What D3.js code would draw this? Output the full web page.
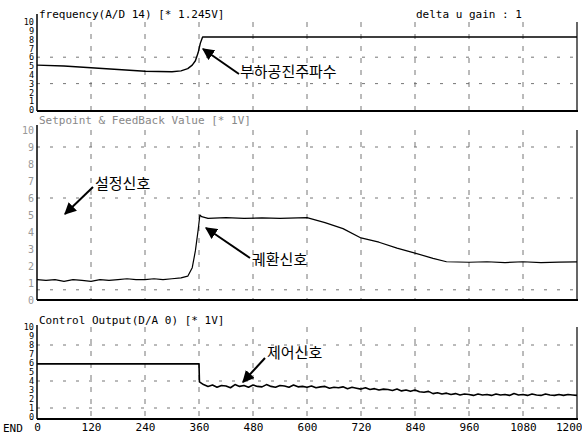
<!DOCTYPE html>
<html><head><meta charset="utf-8">
<script src="https://cdn.jsdelivr.net/npm/d3@7/dist/d3.min.js"></script>
<style>
html,body{margin:0;padding:0;background:#fff;}
svg{display:block;}
.mono{font-family:"DejaVu Sans Mono","Liberation Mono",monospace;}
.kr{font-family:"Noto Sans CJK KR","Noto Sans CJK SC",sans-serif;}
</style></head>
<body>
<svg id="c" width="582" height="434"></svg>
<script>
// ---------- DATA ----------
const xTicks = [0,120,240,360,480,600,720,840,960,1080,1200];
const yTicks = [0,1,2,3,4,5,6,7,8,9,10];
const titles = ["frequency(A/D 14) [* 1.245V]", "Setpoint & FeedBack Value [* 1V]", "Control Output(D/A 0) [* 1V]"];
const gainLabel = "delta u gain : 1";
const xUnitLabel = "END";

// frequency (panel 1)
const freqT = [0,60,120,180,240,300,320,335,345,352,358,363,368,1200];
const freqV = [5.1,5.0,4.8,4.6,4.4,4.35,4.45,4.7,5.1,5.6,6.5,7.6,8.3,8.3];

// feedback (panel 2)
const fbT = [0,20,40,60,80,100,120,140,160,180,200,220,240,260,280,300,320,335,345,352,358,362,366,380,420,460,500,540,580,600,640,680,720,760,800,840,880,910,960,1000,1040,1080,1120,1160,1200];
const fbV = [1.2,1.15,1.2,1.1,1.2,1.15,1.1,1.2,1.15,1.2,1.25,1.2,1.2,1.25,1.2,1.25,1.3,1.4,1.9,2.9,4.1,5.0,4.9,4.8,4.85,4.8,4.83,4.8,4.83,4.85,4.55,4.2,3.65,3.4,3.05,2.76,2.45,2.25,2.22,2.25,2.2,2.25,2.2,2.23,2.24];

// control output (panel 3)
const ctrlT = [0,360,361,370,380,390,400,410,420,430,440,450,460,470,480,490,500,510,520,530,540,550,560,570,580,590,600,610,620,630,640,650,660,670,680,690,700,710,720,730,740,750,760,770,780,790,800,810,820,830,840,850,860,870,880,890,900,910,920,930,940,950,960,970,980,990,1000,1010,1020,1030,1040,1050,1060,1070,1080,1090,1100,1110,1120,1130,1140,1150,1160,1170,1180,1190,1200];
const ctrlV = [5.9,5.9,3.9,3.6,3.4,3.55,3.3,3.5,3.45,3.25,3.6,3.4,3.5,3.3,3.55,3.4,3.35,3.6,3.4,3.3,3.5,3.45,3.3,3.55,3.35,3.4,3.3,3.45,3.25,3.35,3.4,3.2,3.3,3.25,3.35,3.15,3.3,3.2,3.1,3.25,3.05,3.15,3.0,3.1,3.05,2.95,3.1,2.9,3.0,2.85,3.0,2.8,2.75,2.85,2.6,2.7,2.55,2.65,2.5,2.6,2.45,2.55,2.5,2.4,2.55,2.45,2.5,2.4,2.55,2.45,2.5,2.4,2.6,2.45,2.5,2.4,2.55,2.45,2.4,2.55,2.45,2.4,2.5,2.4,2.5,2.45,2.4];

// grid levels seen in each panel
const hGrid1 = [3,6];
const hGrid2 = [9,6,0.6];
const hGrid3 = [8,4,1];

const annoText = ["부하공진주파수","설정신호","궤환신호","제어신호"];

// ---------- LAYOUT ----------
const L = {left:37, right:577};
const panels = [
  {top:22, bottom:110, frameTop:14, frameBottom:111, titleY:18, labelColor:"#000", fs:8.5},
  {top:130, bottom:300, frameTop:125, frameBottom:300, titleY:124, labelColor:"#999", fs:10},
  {top:327, bottom:417, frameTop:325, frameBottom:419, titleY:324, labelColor:"#000", fs:8.5}
];
const annoLayout = [
  {tx:240, ty:73, x1:239, y1:74, x2:203, y2:49},
  {tx:95,  ty:185, x1:93, y1:187, x2:65, y2:214},
  {tx:252, ty:261, x1:250, y1:258, x2:206, y2:228},
  {tx:267, ty:354, x1:265, y1:358, x2:243, y2:382}
];

const svg = d3.select("#c");
const x = d3.scaleLinear().domain([0,1200]).range([L.left, L.right]);
const yScales = panels.map(p => d3.scaleLinear().domain([0,10]).range([p.bottom, p.top]));
const hGrids = [hGrid1, hGrid2, hGrid3];

panels.forEach((p,i) => {
  const y = yScales[i];
  const g = svg.append("g");
  g.selectAll("line.vg").data(xTicks.slice(1,-1)).join("line")
    .attr("x1", d=>x(d)).attr("x2", d=>x(d))
    .attr("y1", p.top).attr("y2", p.frameBottom)
    .attr("stroke","#666").attr("stroke-width",0.9).attr("stroke-dasharray","5,7");
  g.selectAll("line.hg").data(hGrids[i]).join("line")
    .attr("x1", L.left).attr("x2", L.right)
    .attr("y1", d=>y(d)).attr("y2", d=>y(d))
    .attr("stroke","#666").attr("stroke-width",0.9).attr("stroke-dasharray","3,10");
  g.append("line").attr("x1",L.left).attr("x2",L.left).attr("y1",p.frameTop).attr("y2",p.frameBottom)
    .attr("stroke","#000").attr("stroke-width",1.5);
  g.append("line").attr("x1",L.left).attr("x2",L.right+1).attr("y1",p.frameBottom).attr("y2",p.frameBottom)
    .attr("stroke","#000").attr("stroke-width",2);
  g.append("line").attr("x1",L.right).attr("x2",L.right).attr("y1",p.top).attr("y2",p.frameBottom)
    .attr("stroke","#000").attr("stroke-width",1.2);
  const ax = g.append("g").attr("transform",`translate(${L.left-2},0)`)
    .call(d3.axisLeft(y).tickValues(yTicks).tickSize(0).tickPadding(1).tickFormat(d3.format("d")));
  ax.select(".domain").remove();
  ax.selectAll("text").attr("class","mono").style("font-size",p.fs+"px").attr("fill",p.labelColor)
    .attr("font-family",null);
  g.append("text").attr("class","mono").attr("x",L.left+2).attr("y",p.titleY)
    .style("font-size","11px").attr("fill", i===1 ? "#888" : "#000").text(titles[i]);
});

svg.append("text").attr("class","mono").attr("x",416).attr("y",18)
  .style("font-size","11px").text(gainLabel);

// x axis
const xa = svg.append("g").attr("transform",`translate(0,${panels[2].frameBottom})`)
  .call(d3.axisBottom(x).tickValues(xTicks).tickSize(0).tickPadding(4).tickFormat(d3.format("d")));
xa.select(".domain").remove();
xa.selectAll("text").attr("class","mono").style("font-size","11px").attr("font-family",null);
xa.selectAll(".tick").filter(d=>d===1200).select("text").attr("text-anchor","end").attr("dx","5");
svg.append("text").attr("class","mono").attr("x",3).attr("y",432).style("font-size","11px").text(xUnitLabel);

// series
function drawLine(T,V,yi,w){
  const data = T.map((t,k)=>[t,V[k]]);
  svg.append("path").datum(data)
    .attr("d", d3.line().x(d=>x(d[0])).y(d=>yScales[yi](d[1])))
    .attr("fill","none").attr("stroke","#000").attr("stroke-width",w).attr("stroke-linejoin","round");
}
drawLine(freqT,freqV,0,1.4);
drawLine(fbT,fbV,1,1.2);
drawLine(ctrlT,ctrlV,2,1.6);

// annotations
const defs = svg.append("defs");
defs.append("marker").attr("id","ah").attr("viewBox","0 0 10 10").attr("refX",9).attr("refY",5)
  .attr("markerWidth",6).attr("markerHeight",6).attr("markerUnits","strokeWidth").attr("orient","auto")
  .append("path").attr("d","M0,0 L10,5 L0,10 z").attr("fill","#000");
annoLayout.forEach((a,i)=>{
  svg.append("line").attr("x1",a.x1).attr("y1",a.y1).attr("x2",a.x2).attr("y2",a.y2)
    .attr("stroke","#000").attr("stroke-width",2).attr("marker-end","url(#ah)");
  svg.append("text").attr("class","kr").attr("x",a.tx).attr("y",a.ty)
    .attr("dominant-baseline","middle").style("font-size","15px").text(annoText[i]);
});
</script>
</body></html>
